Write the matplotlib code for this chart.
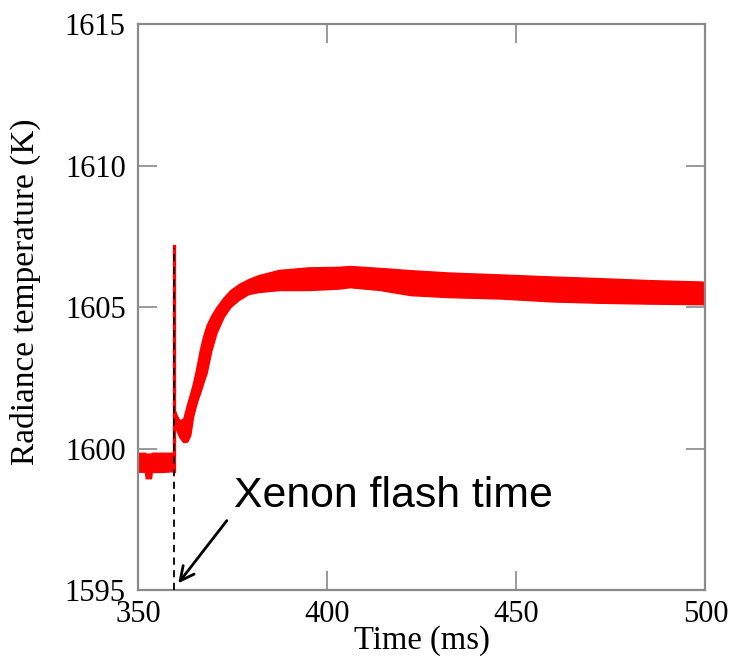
import numpy as np
import matplotlib
matplotlib.use('Agg')
import matplotlib.pyplot as plt

# band: time (ms), top edge and bottom edge of the red trace (K)
pre_t = [350.0, 351.8, 352.0, 353.4, 353.6, 356.0, 359.45]
pre_hi = [1599.85, 1599.85, 1599.82, 1599.82, 1599.85, 1599.85, 1599.85]
pre_lo = [1599.18, 1599.18, 1598.95, 1598.95, 1599.17, 1599.17, 1599.2]

post_t = [359.45, 360.1, 360.9, 361.9, 362.5, 363.0, 363.8, 364.5, 365.1, 365.7,
          366.3, 367.2, 368.1, 369.4, 370.7, 372.6, 374.4, 376.6, 379.2, 381.9,
          387.2, 395.0, 403.0, 406.0, 414.0, 422.0, 432.0, 446.0, 459.0, 472.0,
          485.0, 499.0, 500.0]
post_hi = [1601.45, 1601.2, 1601.0, 1601.05, 1601.35, 1601.6, 1601.96, 1602.31, 1602.67, 1603.06,
           1603.48, 1603.98, 1604.36, 1604.72, 1605.0, 1605.34, 1605.6, 1605.81, 1605.99, 1606.13,
           1606.31, 1606.4, 1606.42, 1606.45, 1606.38, 1606.3, 1606.22, 1606.15, 1606.08, 1606.02,
           1605.95, 1605.9, 1605.88]
post_lo = [1601.0, 1600.65, 1600.4, 1600.23, 1600.23, 1600.25, 1600.48, 1601.11, 1601.43, 1601.71,
           1601.93, 1602.31, 1602.67, 1603.48, 1604.08, 1604.65, 1605.0, 1605.25, 1605.46, 1605.53,
           1605.6, 1605.6, 1605.65, 1605.7, 1605.6, 1605.42, 1605.35, 1605.3, 1605.2, 1605.15,
           1605.12, 1605.1, 1605.08]

flash_t = 359.45
spike_lo, spike_hi = 1599.2, 1607.15

xticks = [350, 400, 450, 500]
yticks = [1595, 1600, 1605, 1610, 1615]

fig = plt.figure(figsize=(7.31, 6.56), dpi=100)
ax = fig.add_axes([0.189, 0.1006, 0.776, 0.8628])

red = '#ff0000'
ax.fill_between(pre_t, pre_lo, pre_hi, color=red, lw=1.0, zorder=2)
ax.fill_between(post_t, post_lo, post_hi, color=red, lw=1.0, zorder=2)
ax.plot([flash_t, flash_t], [spike_lo, spike_hi], color=red, lw=2.4, zorder=3)
ax.plot([flash_t, flash_t], [1595, spike_hi - 0.05], color='black', lw=1.3,
        dashes=(4, 3), zorder=4)

ax.annotate('', xy=(360.15, 1595.16), xytext=(373.9, 1597.53),
            arrowprops=dict(arrowstyle='->,head_length=1.0,head_width=0.5',
                            color='black', lw=2), zorder=5)
ax.text(375.4, 1597.93, 'Xenon flash time', fontsize=30.8, family='Liberation Sans',
        ha='left', va='baseline', zorder=5)

ax.set_xlim(350, 500)
ax.set_ylim(1595, 1615)
ax.set_xticks(xticks)
ax.set_yticks(yticks)

serif = 'Liberation Serif'
for lab in ax.get_xticklabels() + ax.get_yticklabels():
    lab.set_family(serif)
    lab.set_fontsize(22)

ax.tick_params(direction='in', length=14, width=1.4, color='#9a9a9a',
               top=True, right=True, pad=9)
ax.tick_params(axis='x', pad=7)
for sp in ax.spines.values():
    sp.set_color('#8a8a8a')
    sp.set_linewidth(1.6)

ax.set_xlabel('Time (ms)', fontsize=23.5, family=serif)
ax.set_ylabel('Radiance temperature (K)', fontsize=24, family=serif)
ax.xaxis.set_label_coords(0.5, -0.062)
ax.yaxis.set_label_coords(-0.172, 0.527)

fig.savefig('out.png', dpi=100)
